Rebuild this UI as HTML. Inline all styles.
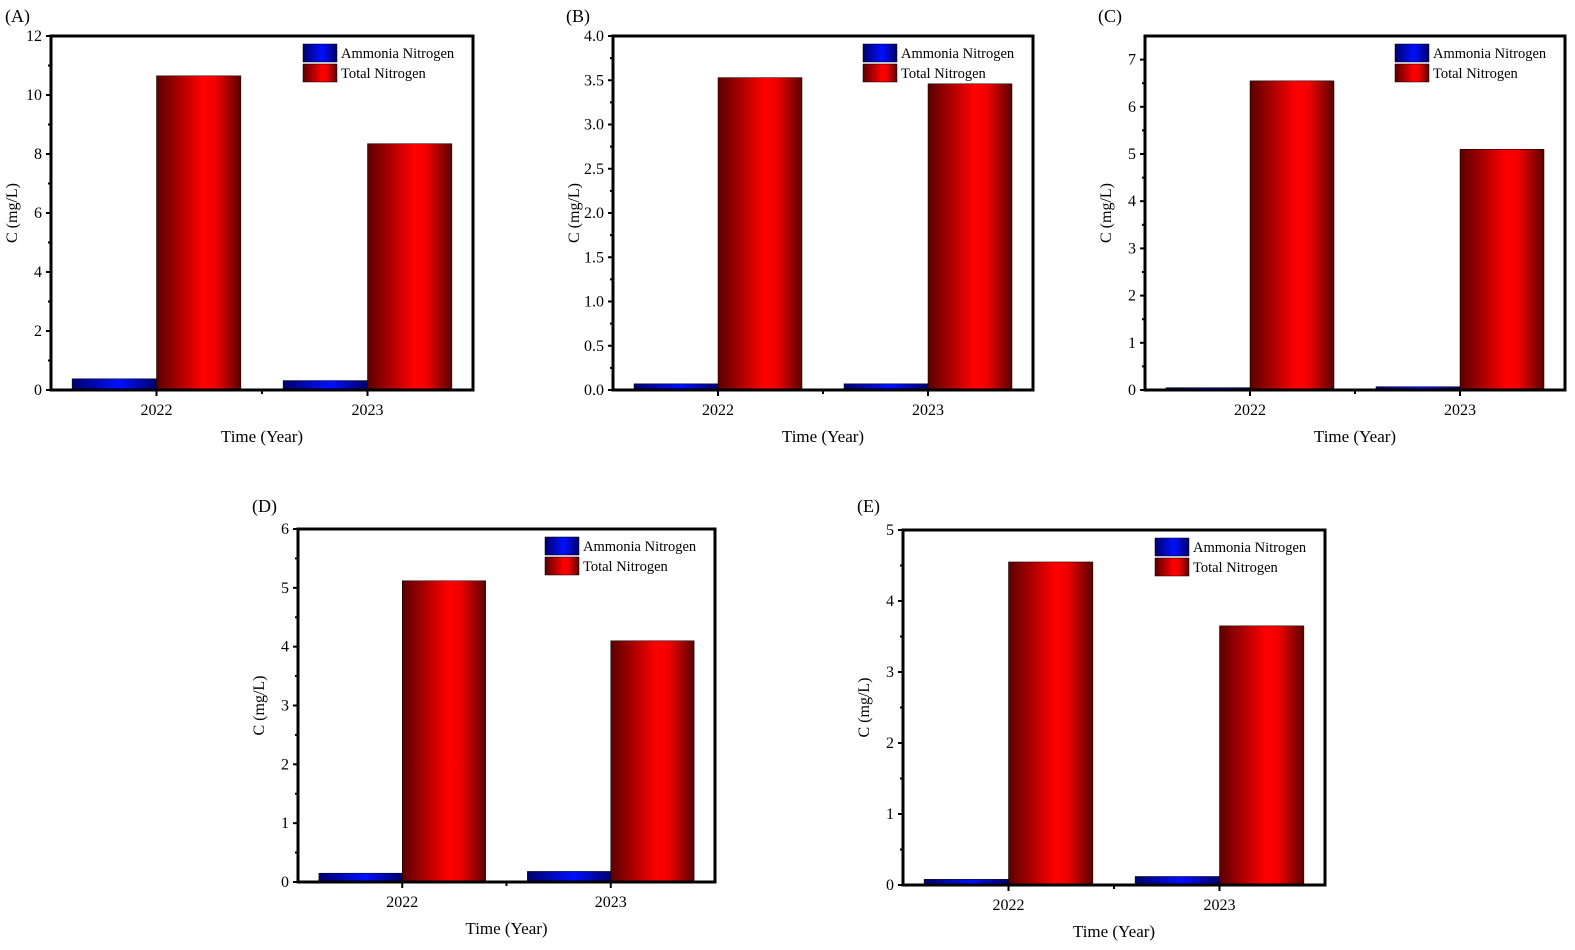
<!DOCTYPE html>
<html><head><meta charset="utf-8"><style>
body{margin:0;background:#fff;}
svg text{font-family:"Liberation Serif",serif;fill:#000;}
</style></head><body>
<svg id="fig" width="1575" height="945" viewBox="0 0 1575 945" xmlns="http://www.w3.org/2000/svg">
<defs>
<linearGradient id="gr" x1="0" x2="1" y1="0" y2="0">
<stop offset="0" stop-color="#5a0000"/><stop offset="0.55" stop-color="#ff0000"/><stop offset="0.7" stop-color="#f00000"/><stop offset="1" stop-color="#5a0000"/></linearGradient>
<linearGradient id="gb" x1="0" x2="1" y1="0" y2="0">
<stop offset="0" stop-color="#00006a"/><stop offset="0.55" stop-color="#0010ff"/><stop offset="1" stop-color="#00006a"/></linearGradient>
</defs>
</svg>
<script>
const categories=["2022","2023"];
const panelLabels=["(A)","(B)","(C)","(D)","(E)"];
const ammoniaA=[0.38,0.32], totalA=[10.65,8.35], ticksA=[0,2,4,6,8,10,12], maxA=12;
const ammoniaB=[0.07,0.07], totalB=[3.53,3.46], ticksB=[0,0.5,1.0,1.5,2.0,2.5,3.0,3.5,4.0], maxB=4;
const ammoniaC=[0.05,0.07], totalC=[6.55,5.1], ticksC=[0,1,2,3,4,5,6,7], maxC=7.5;
const ammoniaD=[0.15,0.18], totalD=[5.12,4.1], ticksD=[0,1,2,3,4,5,6], maxD=6;
const ammoniaE=[0.08,0.12], totalE=[4.55,3.65], ticksE=[0,1,2,3,4,5], maxE=5;
const svg=document.getElementById('fig');
const NS="http://www.w3.org/2000/svg";
function mk(t,a,p){const e=document.createElementNS(NS,t);for(const k in a)e.setAttribute(k,a[k]);(p||svg).appendChild(e);return e;}
const panels=[
 {L:51,R:473,T:36,B:390,lx:5,ly:22,am:ammoniaA,tn:totalA,ticks:ticksA,max:maxA,dec:0,name:'a'},
 {L:613,R:1033,T:36,B:390,lx:566,ly:22,am:ammoniaB,tn:totalB,ticks:ticksB,max:maxB,dec:1,name:'b'},
 {L:1145,R:1565,T:36,B:390,lx:1098,ly:22,am:ammoniaC,tn:totalC,ticks:ticksC,max:maxC,dec:0,name:'c'},
 {L:298,R:715,T:529,B:882,lx:252,ly:512,am:ammoniaD,tn:totalD,ticks:ticksD,max:maxD,dec:0,name:'d'},
 {L:903,R:1325,T:530,B:885,lx:857,ly:512,am:ammoniaE,tn:totalE,ticks:ticksE,max:maxE,dec:0,name:'e'}
];
panels.forEach((p,i)=>{
 const g=mk('g',{});
 
 
 const W=p.R-p.L,H=p.B-p.T;
 const y=v=>p.B-v/p.max*H;
 const x=k=>p.L+W*(0.25+0.5*k);
 const bw=W*0.2;
 let t=mk('text',{x:p.lx,y:p.ly,'font-size':18},g);t.textContent=panelLabels[i];
 
 categories.forEach((c,k)=>{
  let r=mk('rect',{x:x(k)-bw,y:y(p.am[k]),width:bw,height:p.B-y(p.am[k]),fill:'url(#gb)',stroke:'#000','stroke-width':0.5},g);
  
  r=mk('rect',{x:x(k),y:y(p.tn[k]),width:bw,height:p.B-y(p.tn[k]),fill:'url(#gr)',stroke:'#000','stroke-width':0.5},g);
  
  mk('line',{x1:x(k),x2:x(k),y1:p.B,y2:p.B+6,stroke:'#000','stroke-width':2},g);
  t=mk('text',{x:x(k),y:p.B+25,'font-size':16,'text-anchor':'middle'},g);t.textContent=c;
  
 });
 mk('line',{x1:p.L+W/2,x2:p.L+W/2,y1:p.B,y2:p.B+4,stroke:'#000','stroke-width':2},g);
 const fr=mk('rect',{x:p.L,y:p.T,width:W,height:H,fill:'none',stroke:'#000','stroke-width':3},g);
 
 p.ticks.forEach((v,j)=>{
  mk('line',{x1:p.L-5,x2:p.L,y1:y(v),y2:y(v),stroke:'#000','stroke-width':2},g);
  if(j<p.ticks.length-1){const m=(v+p.ticks[j+1])/2;mk('line',{x1:p.L-3,x2:p.L,y1:y(m),y2:y(m),stroke:'#000','stroke-width':2},g);}
  t=mk('text',{x:p.L-9,y:y(v)+5,'font-size':16,'text-anchor':'end'},g);t.textContent=v.toFixed(p.dec);
  
 });
 const yc=(p.T+p.B)/2;
 t=mk('text',{x:0,y:0,'font-size':16,'text-anchor':'middle',transform:`translate(${p.L-34},${yc}) rotate(-90)`},g);t.textContent='C (mg/L)';
 
 t=mk('text',{x:p.L+W/2,y:p.B+52,'font-size':17,'text-anchor':'middle'},g);t.textContent='Time (Year)';
 
 const lx=p.R-170,ly=p.T+8;
 [['Ammonia Nitrogen','url(#gb)'],['Total Nitrogen','url(#gr)']].forEach((e,k)=>{
  const le=mk('g',{},g);
  
  mk('rect',{x:lx,y:ly+k*20,width:34,height:18,fill:e[1],stroke:'#000','stroke-width':0.5},le);
  const tt=mk('text',{x:lx+38,y:ly+k*20+14,'font-size':14.5},le);tt.textContent=e[0];
 });
});
</script>
</body></html>
